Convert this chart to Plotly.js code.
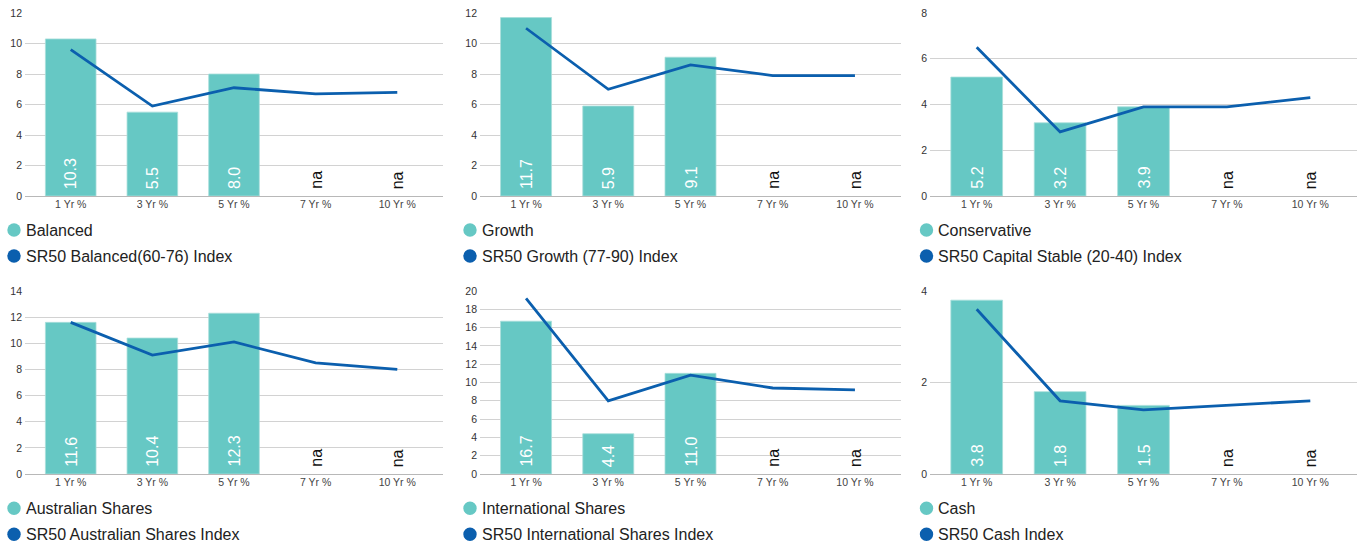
<!DOCTYPE html>
<html><head><meta charset="utf-8">
<script src="https://cdn.plot.ly/plotly-3.0.1.min.js"></script>
<style>html,body{margin:0;padding:0;background:#fff}#chart{width:1359px;height:546px}</style>
</head><body><div id="chart"></div>
<script>
// ---- data ----
const categories = ['1 Yr %', '3 Yr %', '5 Yr %', '7 Yr %', '10 Yr %'];

const fundNames = ['Balanced', 'Growth', 'Conservative', 'Australian Shares', 'International Shares', 'Cash'];
const indexNames = ['SR50 Balanced(60-76) Index', 'SR50 Growth (77-90) Index', 'SR50 Capital Stable (20-40) Index',
                    'SR50 Australian Shares Index', 'SR50 International Shares Index', 'SR50 Cash Index'];

const balancedFund      = [10.3, 5.5, 8.0, null, null];
const balancedIndex     = [9.6, 5.9, 7.1, 6.7, 6.8];
const growthFund        = [11.7, 5.9, 9.1, null, null];
const growthIndex       = [11.0, 7.0, 8.6, 7.9, 7.9];
const conservativeFund  = [5.2, 3.2, 3.9, null, null];
const conservativeIndex = [6.5, 2.8, 3.9, 3.9, 4.3];
const ausSharesFund     = [11.6, 10.4, 12.3, null, null];
const ausSharesIndex    = [11.6, 9.1, 10.1, 8.5, 8.0];
const intlSharesFund    = [16.7, 4.4, 11.0, null, null];
const intlSharesIndex   = [19.2, 8.0, 10.8, 9.4, 9.2];
const cashFund          = [3.8, 1.8, 1.5, null, null];
const cashIndex         = [3.6, 1.6, 1.4, 1.5, 1.6];

const yAxisMax = [12, 12, 8, 14, 20, 4];
const yAxisStep = [2, 2, 2, 2, 2, 2];

const fundSeries = [balancedFund, growthFund, conservativeFund, ausSharesFund, intlSharesFund, cashFund];
const indexSeries = [balancedIndex, growthIndex, conservativeIndex, ausSharesIndex, intlSharesIndex, cashIndex];

// ---- styles ----
const W = 1359, H = 546;
const BAR_COLOR = '#66c8c4';
const LINE_COLOR = '#0b5fae';
const FONT = 'Liberation Sans, Arial, Helvetica, sans-serif';
const xDom = [[25, 443], [480, 901], [930, 1357]];
const yDom = [[13, 196], [291, 474]];
const legendCircleX = [14, 470, 926.5];
const legendTextX = [26, 481.7, 937.7];
const legendRowY = [[230, 256], [508.3, 534.3]];

const traces = [];
const annotations = [];
const shapes = [];
const layout = {
  width: W, height: H,
  margin: {l: 0, r: 0, t: 0, b: 0},
  paper_bgcolor: '#fff', plot_bgcolor: '#fff',
  showlegend: false,
  bargap: 0.38,
  font: {family: FONT, color: '#333'}
};

for (let i = 0; i < 6; i++) {
  const n = i + 1;
  const col = i % 3, row = Math.floor(i / 3);
  const xa = 'x' + n, ya = 'y' + n;
  traces.push({
    type: 'bar', x: categories, y: fundSeries[i], name: fundNames[i],
    xaxis: xa, yaxis: ya,
    marker: {color: BAR_COLOR, line: {color: '#a8dedb', width: 0.8}},
    hoverinfo: 'skip'
  });
  traces.push({
    type: 'scatter', mode: 'lines', x: categories, y: indexSeries[i], name: indexNames[i],
    xaxis: xa, yaxis: ya,
    line: {color: LINE_COLOR, width: 2.8},
    hoverinfo: 'skip'
  });
  layout['xaxis' + (n === 1 ? '' : n)] = {
    domain: [xDom[col][0] / W, xDom[col][1] / W],
    anchor: ya,
    type: 'category',
    range: [-0.56, 4.56],
    showgrid: false, zeroline: false, showline: false,
    ticks: '',
    tickfont: {size: 10.5, color: '#444', family: FONT},
    fixedrange: true
  };
  layout['yaxis' + (n === 1 ? '' : n)] = {
    domain: [1 - yDom[row][1] / H, 1 - yDom[row][0] / H],
    anchor: xa,
    range: [0, yAxisMax[i]],
    dtick: yAxisStep[i], tick0: 0,
    showgrid: true, gridcolor: '#d2d2d2', gridwidth: 1,
    zeroline: true, zerolinecolor: '#b8b8b8', zerolinewidth: 1,
    showline: false, ticks: '', ticklabelstandoff: 2,
    tickfont: {size: 10.5, color: '#333', family: FONT},
    fixedrange: true
  };
  // value labels on bars
  for (let j = 0; j < categories.length; j++) {
    const v = fundSeries[i][j];
    annotations.push({
      x: categories[j], y: 0, xref: xa, yref: ya,
      text: v == null ? 'na' : v.toFixed(1),
      textangle: -90, showarrow: false,
      xanchor: 'center', yanchor: 'bottom', yshift: 5,
      font: {size: 16, color: v == null ? '#111' : '#ffffff', family: FONT}
    });
  }
  // legend
  const names = [fundNames[i], indexNames[i]];
  const colors = [BAR_COLOR, LINE_COLOR];
  for (let k = 0; k < 2; k++) {
    const cy = legendRowY[row][k];
    shapes.push({
      type: 'circle', xref: 'paper', yref: 'paper',
      xsizemode: 'pixel', ysizemode: 'pixel',
      xanchor: legendCircleX[col] / W, yanchor: 1 - cy / H,
      x0: -6.7, x1: 6.7, y0: -6.7, y1: 6.7,
      fillcolor: colors[k], line: {width: 0}
    });
    annotations.push({
      xref: 'paper', yref: 'paper',
      x: (legendTextX[col] - 2) / W, y: 1 - cy / H,
      xanchor: 'left', yanchor: 'middle', showarrow: false,
      text: names[k],
      font: {size: 16, color: '#222', family: FONT}
    });
  }
}
layout.annotations = annotations;
layout.shapes = shapes;

Plotly.newPlot('chart', traces, layout, {displayModeBar: false, staticPlot: true});
</script>
</body></html>
